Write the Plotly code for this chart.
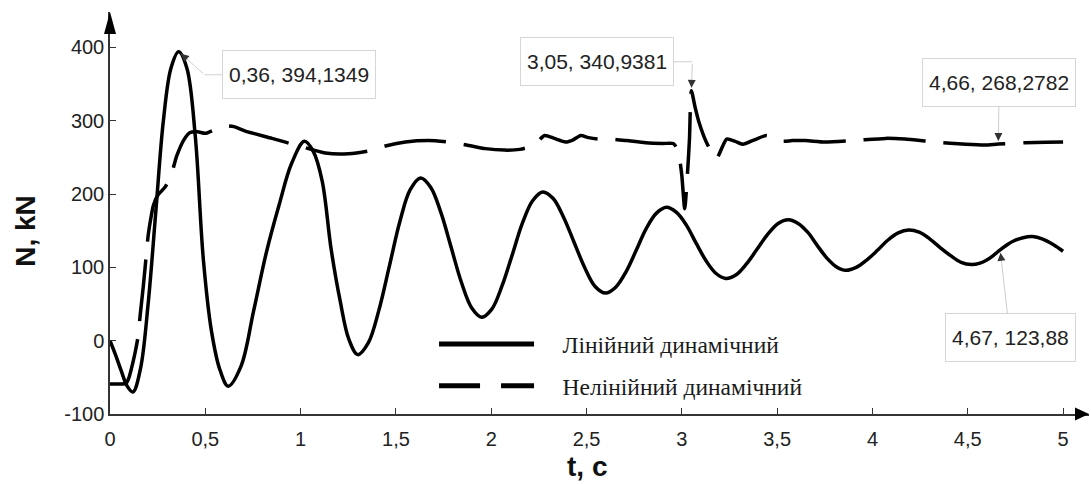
import plotly.graph_objects as go

# ---- data ----
lin_t = [0.00, 0.03, 0.06, 0.09, 0.12,
         0.16, 0.20, 0.24, 0.28, 0.32, 0.36,
         0.403, 0.447, 0.49, 0.533, 0.577, 0.62,
         0.687, 0.753, 0.82, 0.887, 0.953, 1.02,
         1.067, 1.113, 1.16, 1.207, 1.253, 1.30,
         1.355, 1.41, 1.465, 1.52, 1.575, 1.63,
         1.683, 1.737, 1.79, 1.843, 1.897, 1.95,
         2.003, 2.057, 2.11, 2.163, 2.217, 2.27,
         2.325, 2.38, 2.435, 2.49, 2.545, 2.60,
         2.653, 2.707, 2.76, 2.813, 2.867, 2.92,
         2.972, 3.023, 3.075, 3.127, 3.178, 3.23,
         3.285, 3.34, 3.395, 3.45, 3.505, 3.56,
         3.61, 3.66, 3.71, 3.76, 3.81, 3.86,
         3.915, 3.97, 4.025, 4.08, 4.135, 4.19,
         4.245, 4.30, 4.355, 4.41, 4.465, 4.52,
         4.56, 4.60, 4.635, 4.67, 4.705, 4.74, 4.79, 4.84,
         4.89, 4.95, 5.00]
lin_n = [0, -20, -42, -62, -70,
         -38, 50, 175, 300, 372, 394.1349,
         372, 280, 110, 12, -40, -62,
         -35, 40, 120, 185, 242, 272,
         258, 218, 125, 55, 2, -19,
         -3, 41, 101, 162, 206, 222,
         209, 174, 127, 80, 45, 32,
         43, 75, 117, 160, 191, 203,
         194, 168, 134, 100, 74, 65,
         73, 94, 123, 153, 174, 182,
         175, 158, 133, 109, 92, 85,
         90, 105, 125, 145, 160, 165,
         160, 148, 130, 113, 101, 96,
         100, 110, 123, 137, 147, 151,
         148, 139, 127, 116, 107, 104,
         105.5, 110, 116.5, 123.88, 130.5, 136, 140.5, 142,
         139, 131, 122]

nl_t = [0.00, 0.05, 0.085, 0.10, 0.12, 0.135, 0.148, 0.158, 0.175, 0.19, 0.20, 0.215, 0.227, 0.25,
        0.29, 0.32, 0.35, 0.39, 0.42, 0.46, 0.50, 0.55, 0.60, 0.65, 0.71, 0.85, 1.00, 1.13, 1.25,
        1.36, 1.45, 1.55, 1.67, 1.78, 1.87, 1.97, 2.07, 2.15, 2.22, 2.28, 2.33, 2.39, 2.43, 2.47,
        2.51, 2.56, 2.63, 2.71, 2.81, 2.90, 2.955, 2.975, 2.99, 3.00, 3.015, 3.03, 3.04, 3.05,
        3.07, 3.09, 3.13, 3.18, 3.235, 3.28, 3.32, 3.38, 3.445, 3.49, 3.53, 3.58, 3.65, 3.75,
        3.90, 4.07, 4.17, 4.33, 4.49, 4.59, 4.66, 4.80, 4.91, 5.00]
nl_n = [-59, -59, -58, -50, -30, -12, 7, 34, 75, 116, 143, 168, 184, 198,
        210, 225, 252, 275, 284, 285, 283, 288, 293, 292, 286, 276, 265, 256, 255,
        259, 266, 271, 273, 271, 267, 262, 260, 261, 266, 280, 276, 271, 274, 280,
        277, 275, 275, 273, 270, 269, 269, 262, 245, 225, 180, 230, 275, 340.9381,
        318, 298, 270, 248, 275, 272, 268, 274, 280, 275, 272, 273, 273, 271,
        273, 276, 275, 271, 268, 267, 268.2782, 270, 270.6, 271]

x_ticks = [0, 0.5, 1, 1.5, 2, 2.5, 3, 3.5, 4, 4.5, 5]
x_tick_text = ["0", "0,5", "1", "1,5", "2", "2,5", "3", "3,5", "4", "4,5", "5"]
y_ticks = [-100, 0, 100, 200, 300, 400]
y_tick_text = ["-100", "0", "100", "200", "300", "400"]

series_names = ["Лінійний динамічний", "Нелінійний динамічний"]

# labelled points: (x, y, label)
callouts = [
    (0.36, 394.1349, "0,36, 394,1349"),
    (3.05, 340.9381, "3,05, 340,9381"),
    (4.66, 268.2782, "4,66, 268,2782"),
    (4.67, 123.88, "4,67, 123,88"),
]

NB = "\u00a0\u00a0\u00a0\u00a0"

fig = go.Figure()
fig.add_trace(go.Scatter(x=lin_t, y=lin_n, mode="lines", name=series_names[0],
                         line=dict(color="black", width=3.5, shape="spline", smoothing=1.0),
                         showlegend=False))
fig.add_trace(go.Scatter(x=nl_t, y=nl_n, mode="lines", name=series_names[1],
                         line=dict(color="black", width=3.5, shape="spline", smoothing=0.6,
                                   dash="62px,18px"),
                         showlegend=False))
# legend entries
fig.add_trace(go.Scatter(x=[None], y=[None], mode="lines", name=NB + series_names[0],
                         line=dict(color="black", width=5), legendgroup="a"))
fig.add_trace(go.Scatter(x=[None], y=[None], mode="lines", name=NB + series_names[1],
                         line=dict(color="black", width=5, dash="41px,21px"), legendgroup="b"))

tick_font = dict(family="Liberation Sans, Arial", size=20, color="#222222")
fig.update_xaxes(range=[0, 5.136], tickvals=x_ticks, ticktext=x_tick_text, ticks="inside",
                 ticklen=6, tickwidth=1.2, tickcolor="#333", showline=True, linecolor="#333",
                 linewidth=1.5, showgrid=False, zeroline=False, tickfont=tick_font,
                 ticklabelstandoff=6)
fig.update_yaxes(range=[-100, 448.4], tickvals=y_ticks, ticktext=y_tick_text, ticks="inside",
                 ticklen=6, tickwidth=1.2, tickcolor="#333", showline=True, linecolor="#333",
                 linewidth=1.5, showgrid=False, zeroline=False, tickfont=tick_font)

ann = []
box_font = dict(family="Liberation Sans, Arial", size=21, color="#222222")
grey = "#cfcfcf"
dark = "#333333"
geom = [
    dict(elbow=(26, 23), box=(94, 0)),
    dict(elbow=(1, -29), box=(-95, 0)),
    dict(elbow=(0, 0), box=(1, -62)),
    dict(elbow=(0, 0), box=(10, 88)),
]
for (px, py, lab), g in zip(callouts, geom):
    ex, ey = g["elbow"]
    bx, by = g["box"]
    if (ex, ey) != (0, 0):
        ann.append(dict(x=px, y=py, xref="x", yref="y", text=" ", font=dict(size=1),
                        showarrow=True, ax=ex, ay=ey, arrowhead=0, arrowwidth=1,
                        arrowcolor=grey, standoff=3))
    ann.append(dict(x=px, y=py, xref="x", yref="y", xshift=ex, yshift=-ey, text=lab,
                    font=box_font, showarrow=True, ax=bx, ay=by, arrowhead=0, arrowwidth=1,
                    arrowcolor=grey, bgcolor="white", bordercolor="#d6d6d6", borderwidth=1,
                    borderpad=6, height=35,
                    standoff=0 if (ex, ey) != (0, 0) else 3))
    dx, dy = (ex, ey) if (ex, ey) != (0, 0) else (bx, by)
    L = (dx * dx + dy * dy) ** 0.5
    ann.append(dict(x=px, y=py, xref="x", yref="y", text=" ", font=dict(size=1),
                    showarrow=True, ax=dx / L * 9, ay=dy / L * 9, arrowhead=2, arrowsize=1.6,
                    arrowwidth=1, arrowcolor=dark, standoff=3))

# axis titles
title_font = dict(family="Liberation Sans, Arial", size=28, color="#111111")
ann.append(dict(x=2.5, y=0, xref="x", yref="paper", text="<b>t, c</b>", showarrow=False,
                font=title_font, yanchor="middle", yshift=-52))
ann.append(dict(x=0, y=150, xref="paper", yref="y", text="<b>N, kN</b>", showarrow=False,
                font=title_font, textangle=-90, xanchor="center", xshift=-84))
fig.update_layout(annotations=ann)

# axis arrowheads
W, H = 979.0, 402.0
fig.add_shape(type="path", xref="paper", yref="paper",
              path=f"M {-6/W} {1-22/H} L {6/W} {1-22/H} L 0 1 Z",
              fillcolor="black", line=dict(width=0))
fig.add_shape(type="path", xref="paper", yref="paper",
              path=f"M {1-14/W} {6.5/H} L {1-14/W} {-6.5/H} L 1 0 Z",
              fillcolor="black", line=dict(width=0))

fig.update_layout(
    width=1091, height=484,
    margin=dict(l=110, r=2, t=12, b=70),
    plot_bgcolor="white", paper_bgcolor="white",
    showlegend=True,
    legend=dict(x=0.331, y=0.228, xanchor="left", yanchor="top", bgcolor="rgba(0,0,0,0)",
                font=dict(family="Liberation Serif", size=23.5, color="#1a1a1a"),
                itemwidth=95, tracegroupgap=8, traceorder="grouped"),
)

fig.write_html("out.html", post_script="document.body.style.margin='0';",
               config={"displayModeBar": False})
